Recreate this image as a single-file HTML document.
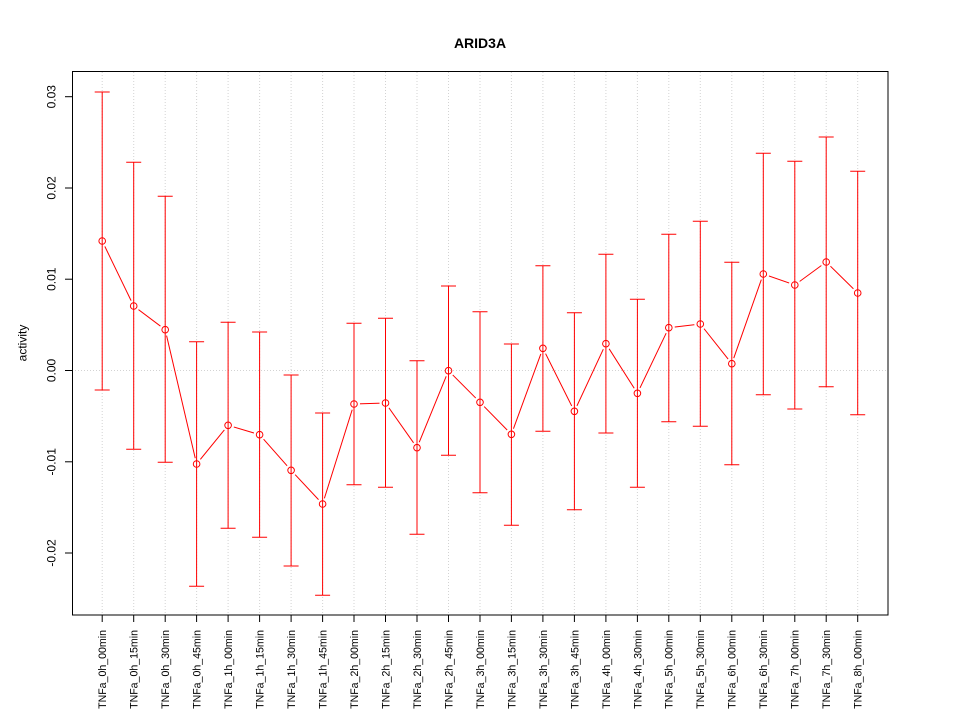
<!DOCTYPE html>
<html><head><meta charset="utf-8"><style>
html,body{margin:0;padding:0;background:#fff;}
svg{display:block;}
text{font-family:"Liberation Sans",Arial,sans-serif;}
</style></head><body>
<svg width="960" height="720" viewBox="0 0 960 720" xmlns="http://www.w3.org/2000/svg">
<rect x="0" y="0" width="960" height="720" fill="#fff"/>
<defs>
<mask id="m" maskUnits="userSpaceOnUse" x="0" y="0" width="960" height="720">
<rect x="0" y="0" width="960" height="720" fill="#fff"/>
<g fill="#000">
<circle cx="102.2" cy="241" r="6"/><circle cx="133.7" cy="306" r="6"/><circle cx="165.2" cy="329.7" r="6"/><circle cx="196.6" cy="464" r="6"/><circle cx="228.1" cy="425.3" r="6"/><circle cx="259.6" cy="434.7" r="6"/><circle cx="291.1" cy="470.3" r="6"/><circle cx="322.6" cy="504" r="6"/><circle cx="354.0" cy="404" r="6"/><circle cx="385.5" cy="403" r="6"/><circle cx="417.0" cy="447.7" r="6"/><circle cx="448.5" cy="370.7" r="6"/><circle cx="480.0" cy="402.3" r="6"/><circle cx="511.4" cy="434.3" r="6"/><circle cx="542.9" cy="348.3" r="6"/><circle cx="574.4" cy="411.3" r="6"/><circle cx="605.9" cy="343.7" r="6"/><circle cx="637.4" cy="393.3" r="6"/><circle cx="668.8" cy="327.7" r="6"/><circle cx="700.3" cy="324" r="6"/><circle cx="731.8" cy="363.7" r="6"/><circle cx="763.3" cy="274" r="6"/><circle cx="794.8" cy="285" r="6"/><circle cx="826.2" cy="262" r="6"/><circle cx="857.7" cy="293" r="6"/>
</g>
</mask>
</defs>

<!-- grid -->
<g stroke="#d3d3d3" stroke-width="1" stroke-dasharray="1,2" fill="none">
<line x1="102.2" y1="72" x2="102.2" y2="615"/><line x1="133.7" y1="72" x2="133.7" y2="615"/><line x1="165.2" y1="72" x2="165.2" y2="615"/><line x1="196.6" y1="72" x2="196.6" y2="615"/><line x1="228.1" y1="72" x2="228.1" y2="615"/><line x1="259.6" y1="72" x2="259.6" y2="615"/><line x1="291.1" y1="72" x2="291.1" y2="615"/><line x1="322.6" y1="72" x2="322.6" y2="615"/><line x1="354.0" y1="72" x2="354.0" y2="615"/><line x1="385.5" y1="72" x2="385.5" y2="615"/><line x1="417.0" y1="72" x2="417.0" y2="615"/><line x1="448.5" y1="72" x2="448.5" y2="615"/><line x1="480.0" y1="72" x2="480.0" y2="615"/><line x1="511.4" y1="72" x2="511.4" y2="615"/><line x1="542.9" y1="72" x2="542.9" y2="615"/><line x1="574.4" y1="72" x2="574.4" y2="615"/><line x1="605.9" y1="72" x2="605.9" y2="615"/><line x1="637.4" y1="72" x2="637.4" y2="615"/><line x1="668.8" y1="72" x2="668.8" y2="615"/><line x1="700.3" y1="72" x2="700.3" y2="615"/><line x1="731.8" y1="72" x2="731.8" y2="615"/><line x1="763.3" y1="72" x2="763.3" y2="615"/><line x1="794.8" y1="72" x2="794.8" y2="615"/><line x1="826.2" y1="72" x2="826.2" y2="615"/><line x1="857.7" y1="72" x2="857.7" y2="615"/>
<line x1="72" y1="370.5" x2="888" y2="370.5"/>
</g>

<!-- connecting line -->
<polyline mask="url(#m)" fill="none" stroke="#ff0000" stroke-width="1" points="102.2,241 133.7,306 165.2,329.7 196.6,464 228.1,425.3 259.6,434.7 291.1,470.3 322.6,504 354.0,404 385.5,403 417.0,447.7 448.5,370.7 480.0,402.3 511.4,434.3 542.9,348.3 574.4,411.3 605.9,343.7 637.4,393.3 668.8,327.7 700.3,324 731.8,363.7 763.3,274 794.8,285 826.2,262 857.7,293"/>

<!-- error bars -->
<g stroke="#ff0000" stroke-width="1" fill="none">
<path d="M102.2 92V390M94.7 92H109.7M94.7 390H109.7"/>
<path d="M133.7 162.3V449.3M126.2 162.3H141.2M126.2 449.3H141.2"/>
<path d="M165.2 196.3V462.3M157.7 196.3H172.7M157.7 462.3H172.7"/>
<path d="M196.6 341.7V586.3M189.1 341.7H204.1M189.1 586.3H204.1"/>
<path d="M228.1 322.3V528.3M220.6 322.3H235.6M220.6 528.3H235.6"/>
<path d="M259.6 332V537.3M252.1 332H267.1M252.1 537.3H267.1"/>
<path d="M291.1 375V566M283.6 375H298.6M283.6 566H298.6"/>
<path d="M322.6 413V595.3M315.1 413H330.1M315.1 595.3H330.1"/>
<path d="M354.0 323.3V484.7M346.5 323.3H361.5M346.5 484.7H361.5"/>
<path d="M385.5 318.3V487.3M378.0 318.3H393.0M378.0 487.3H393.0"/>
<path d="M417.0 360.7V534.3M409.5 360.7H424.5M409.5 534.3H424.5"/>
<path d="M448.5 286V455.3M441.0 286H456.0M441.0 455.3H456.0"/>
<path d="M480.0 311.7V492.7M472.5 311.7H487.5M472.5 492.7H487.5"/>
<path d="M511.4 344V525.3M503.9 344H518.9M503.9 525.3H518.9"/>
<path d="M542.9 265.7V431.3M535.4 265.7H550.4M535.4 431.3H550.4"/>
<path d="M574.4 312.7V509.7M566.9 312.7H581.9M566.9 509.7H581.9"/>
<path d="M605.9 254.3V433M598.4 254.3H613.4M598.4 433H613.4"/>
<path d="M637.4 299.3V487.3M629.9 299.3H644.9M629.9 487.3H644.9"/>
<path d="M668.8 234.3V421.7M661.3 234.3H676.3M661.3 421.7H676.3"/>
<path d="M700.3 221.3V426.3M692.8 221.3H707.8M692.8 426.3H707.8"/>
<path d="M731.8 262.3V464.7M724.3 262.3H739.3M724.3 464.7H739.3"/>
<path d="M763.3 153.3V394.7M755.8 153.3H770.8M755.8 394.7H770.8"/>
<path d="M794.8 161.3V409M787.3 161.3H802.3M787.3 409H802.3"/>
<path d="M826.2 137V386.7M818.7 137H833.7M818.7 386.7H833.7"/>
<path d="M857.7 171.3V414.7M850.2 171.3H865.2M850.2 414.7H865.2"/>
</g>

<!-- points -->
<g stroke="#ff0000" stroke-width="1" fill="none">
<circle cx="102.2" cy="241" r="3.3"/><circle cx="133.7" cy="306" r="3.3"/><circle cx="165.2" cy="329.7" r="3.3"/><circle cx="196.6" cy="464" r="3.3"/><circle cx="228.1" cy="425.3" r="3.3"/><circle cx="259.6" cy="434.7" r="3.3"/><circle cx="291.1" cy="470.3" r="3.3"/><circle cx="322.6" cy="504" r="3.3"/><circle cx="354.0" cy="404" r="3.3"/><circle cx="385.5" cy="403" r="3.3"/><circle cx="417.0" cy="447.7" r="3.3"/><circle cx="448.5" cy="370.7" r="3.3"/><circle cx="480.0" cy="402.3" r="3.3"/><circle cx="511.4" cy="434.3" r="3.3"/><circle cx="542.9" cy="348.3" r="3.3"/><circle cx="574.4" cy="411.3" r="3.3"/><circle cx="605.9" cy="343.7" r="3.3"/><circle cx="637.4" cy="393.3" r="3.3"/><circle cx="668.8" cy="327.7" r="3.3"/><circle cx="700.3" cy="324" r="3.3"/><circle cx="731.8" cy="363.7" r="3.3"/><circle cx="763.3" cy="274" r="3.3"/><circle cx="794.8" cy="285" r="3.3"/><circle cx="826.2" cy="262" r="3.3"/><circle cx="857.7" cy="293" r="3.3"/>
</g>

<!-- box -->
<rect x="72.5" y="71.5" width="815.5" height="543.5" fill="none" stroke="#000" stroke-width="1"/>

<!-- y ticks -->
<g stroke="#000" stroke-width="1">
<line x1="65" y1="96.7" x2="72" y2="96.7"/><line x1="65" y1="188" x2="72" y2="188"/><line x1="65" y1="279.2" x2="72" y2="279.2"/><line x1="65" y1="370.5" x2="72" y2="370.5"/><line x1="65" y1="461.8" x2="72" y2="461.8"/><line x1="65" y1="553" x2="72" y2="553"/>
</g>
<g font-size="12" fill="#000" text-anchor="middle">
<text transform="translate(55.5,96.7) rotate(-90)">0.03</text>
<text transform="translate(55.5,188) rotate(-90)">0.02</text>
<text transform="translate(55.5,279.2) rotate(-90)">0.01</text>
<text transform="translate(55.5,370.5) rotate(-90)">0.00</text>
<text transform="translate(55.5,461.8) rotate(-90)">-0.01</text>
<text transform="translate(55.5,553) rotate(-90)">-0.02</text>
<text transform="translate(26.5,343) rotate(-90)">activity</text>
</g>

<!-- x ticks -->
<g stroke="#000" stroke-width="1">
<line x1="102.2" y1="615" x2="102.2" y2="622"/><line x1="133.7" y1="615" x2="133.7" y2="622"/><line x1="165.2" y1="615" x2="165.2" y2="622"/><line x1="196.6" y1="615" x2="196.6" y2="622"/><line x1="228.1" y1="615" x2="228.1" y2="622"/><line x1="259.6" y1="615" x2="259.6" y2="622"/><line x1="291.1" y1="615" x2="291.1" y2="622"/><line x1="322.6" y1="615" x2="322.6" y2="622"/><line x1="354.0" y1="615" x2="354.0" y2="622"/><line x1="385.5" y1="615" x2="385.5" y2="622"/><line x1="417.0" y1="615" x2="417.0" y2="622"/><line x1="448.5" y1="615" x2="448.5" y2="622"/><line x1="480.0" y1="615" x2="480.0" y2="622"/><line x1="511.4" y1="615" x2="511.4" y2="622"/><line x1="542.9" y1="615" x2="542.9" y2="622"/><line x1="574.4" y1="615" x2="574.4" y2="622"/><line x1="605.9" y1="615" x2="605.9" y2="622"/><line x1="637.4" y1="615" x2="637.4" y2="622"/><line x1="668.8" y1="615" x2="668.8" y2="622"/><line x1="700.3" y1="615" x2="700.3" y2="622"/><line x1="731.8" y1="615" x2="731.8" y2="622"/><line x1="763.3" y1="615" x2="763.3" y2="622"/><line x1="794.8" y1="615" x2="794.8" y2="622"/><line x1="826.2" y1="615" x2="826.2" y2="622"/><line x1="857.7" y1="615" x2="857.7" y2="622"/>
</g>
<g font-size="10.6" fill="#000" text-anchor="end">
<text transform="translate(106.1,630) rotate(-90)">TNFa_0h_00min</text>
<text transform="translate(137.6,630) rotate(-90)">TNFa_0h_15min</text>
<text transform="translate(169.1,630) rotate(-90)">TNFa_0h_30min</text>
<text transform="translate(200.5,630) rotate(-90)">TNFa_0h_45min</text>
<text transform="translate(232.0,630) rotate(-90)">TNFa_1h_00min</text>
<text transform="translate(263.5,630) rotate(-90)">TNFa_1h_15min</text>
<text transform="translate(295.0,630) rotate(-90)">TNFa_1h_30min</text>
<text transform="translate(326.5,630) rotate(-90)">TNFa_1h_45min</text>
<text transform="translate(357.9,630) rotate(-90)">TNFa_2h_00min</text>
<text transform="translate(389.4,630) rotate(-90)">TNFa_2h_15min</text>
<text transform="translate(420.9,630) rotate(-90)">TNFa_2h_30min</text>
<text transform="translate(452.4,630) rotate(-90)">TNFa_2h_45min</text>
<text transform="translate(483.9,630) rotate(-90)">TNFa_3h_00min</text>
<text transform="translate(515.3,630) rotate(-90)">TNFa_3h_15min</text>
<text transform="translate(546.8,630) rotate(-90)">TNFa_3h_30min</text>
<text transform="translate(578.3,630) rotate(-90)">TNFa_3h_45min</text>
<text transform="translate(609.8,630) rotate(-90)">TNFa_4h_00min</text>
<text transform="translate(641.3,630) rotate(-90)">TNFa_4h_30min</text>
<text transform="translate(672.7,630) rotate(-90)">TNFa_5h_00min</text>
<text transform="translate(704.2,630) rotate(-90)">TNFa_5h_30min</text>
<text transform="translate(735.7,630) rotate(-90)">TNFa_6h_00min</text>
<text transform="translate(767.2,630) rotate(-90)">TNFa_6h_30min</text>
<text transform="translate(798.7,630) rotate(-90)">TNFa_7h_00min</text>
<text transform="translate(830.1,630) rotate(-90)">TNFa_7h_30min</text>
<text transform="translate(861.6,630) rotate(-90)">TNFa_8h_00min</text>
</g>

<!-- title -->
<text x="480" y="48" font-size="14" font-weight="bold" text-anchor="middle" fill="#000">ARID3A</text>
</svg>
</body></html>
